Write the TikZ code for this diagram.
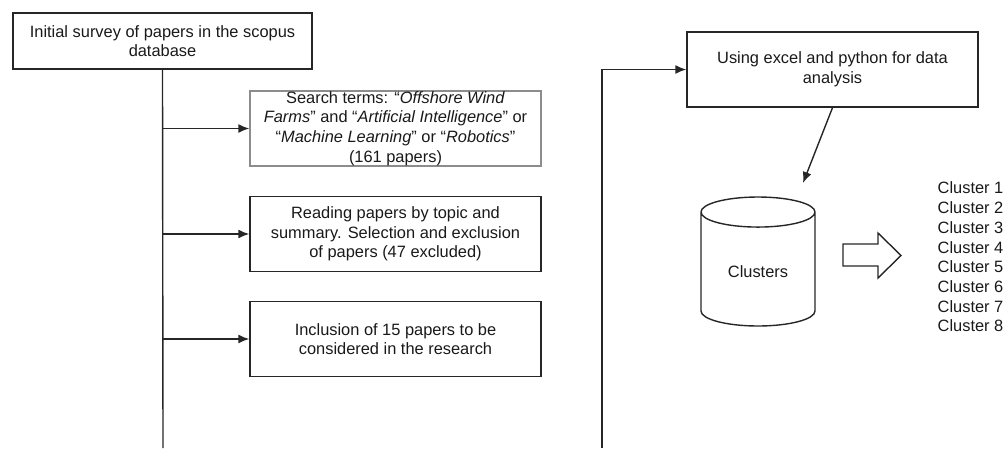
\documentclass[tikz,border=0pt]{standalone}
\usepackage{fontspec}
\setmainfont{Liberation Sans}
\usetikzlibrary{shapes.geometric,arrows.meta}

\tikzset{
  txt/.style={font=\fontsize{16.4}{19.7}\selectfont, text=black!90},
  box/.style={txt, draw=black!85, line width=1.4pt, minimum width=291pt,
    minimum height=75pt, align=center, inner sep=2pt},
  store/.style={txt, draw=black!85, line width=1.4pt, cylinder,
    shape border rotate=90, aspect=0.45, minimum width=114pt, minimum height=129pt,
    anchor=shape center},
  list/.style={txt, align=left, anchor=west, inner sep=0pt}
}

\begin{document}
\begin{tikzpicture}[x=1pt,y=-1pt,>={Latex[length=11pt,width=9pt]},line width=1.4pt,draw=black!85]
\useasboundingbox (0,0) rectangle (1005,448);

\node[box, minimum width=299pt, minimum height=56pt] (survey) at (162.5,41)
  {Initial survey of papers in the scopus\\database};
\node[box, draw=black!45, inner ysep=0pt] (search) at (395.5,128.5)
  {Search terms: “\textit{Offshore Wind}\\\textit{Farms}” and “\textit{Artificial Intelligence}” or\\“\textit{Machine Learning}” or “\textit{Robotics}”\\(161 papers)};
\node[box] (reading) at (395.5,234)
  {Reading papers by topic and\\summary. Selection and exclusion\\of papers (47 excluded)};
\node[box] (inclusion) at (395.5,339)
  {Inclusion of 15 papers to be\\considered in the research};

\node[box] (python) at (832.5,69.5) {Using excel and python for data\\analysis};
\node[store] (clusters) at (758,261.5) {Clusters};
\node[list] (groups) at (937,257)
  {Cluster 1\\Cluster 2\\Cluster 3\\Cluster 4\\Cluster 5\\Cluster 6\\Cluster 7\\Cluster 8};

\coordinate (trunkend) at (163,448);
\coordinate (loopend) at (602,448);
\coordinate (tip) at (803,183);

\draw (survey.south) -- (trunkend);
\foreach \n in {search,reading,inclusion}
{
    \draw [->] (survey.south |- \n.west) -- (\n.west);
}
\draw [->] (loopend) |- (python.west);
\draw [->] (python.south) -- (tip);

% block arrow towards the list
\draw (843,244) -- (878,244) -- (878,233) -- (901,255.5) -- (878,278) -- (878,266) -- (843,266) -- cycle;

\end{tikzpicture}
\end{document}
